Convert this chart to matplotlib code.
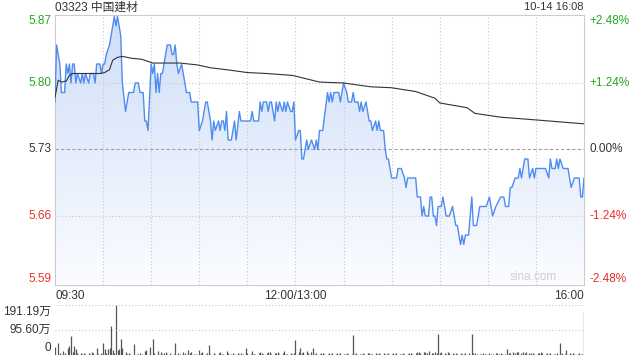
import matplotlib
matplotlib.use('Agg')
import matplotlib.pyplot as plt
import numpy as np
from matplotlib.colors import LinearSegmentedColormap

plt.rcParams['font.family'] = ['Liberation Sans', 'Noto Sans CJK SC', 'DejaVu Sans']

TITLE = '03323 中国建材'
STAMP = '10-14 16:08'
PREV_CLOSE = 5.73
PRICE_TICKS = [5.87, 5.80, 5.73, 5.66, 5.59]
PCT_LABELS = ['+2.48%', '+1.24%', '0.00%', '-1.24%', '-2.48%']
TIME_LABELS = ['09:30', '12:00/13:00', '16:00']
VOL_LABELS = ['191.19万', '95.60万', '0']
VOL_MAX = 191.19

# minutes since 09:30 (trading minutes, lunch removed) and last price
t_min = [0, 1, 3, 4, 6, 7, 8, 9, 10, 11, 12, 13, 14, 16, 17, 18, 19, 21, 22, 24,
         25, 26, 28, 29, 30, 31, 32, 34, 35, 36, 37, 38, 39, 41, 42, 44, 46, 49, 50, 52,
         53, 55, 56, 57, 58, 60, 61, 62, 63, 64, 65, 66, 67, 68, 70, 72, 73, 74, 75, 76,
         77, 79, 80, 82, 84, 85, 89, 90, 92, 94, 95, 97, 98, 99, 100, 102, 103, 104, 105, 106,
         107, 108, 110, 112, 113, 115, 116, 122, 123, 124, 127, 128, 129, 130, 132, 133, 134, 135, 137, 138,
         139, 140, 142, 143, 144, 145, 147, 148, 149, 150, 152, 153, 154, 155, 157, 158, 160, 162, 163, 164,
         165, 167, 170, 171, 172, 173, 174, 177, 178, 180, 182, 183, 185, 186, 187, 189, 190, 191, 192, 194,
         196, 197, 198, 200, 201, 202, 203, 205, 206, 207, 208, 210, 213, 214, 216, 218, 219, 220, 225, 226,
         228, 229, 230, 231, 233, 234, 235, 236, 237, 238, 239, 241, 242, 243, 244, 246, 248, 249, 250, 251,
         253, 254, 255, 256, 258, 260, 261, 263, 265, 269, 271, 272, 273, 275, 278, 280, 281, 283, 284, 285,
         287, 289, 290, 291, 293, 295, 296, 298, 299, 300, 306, 308, 309, 310, 312, 313, 314, 315, 317, 320,
         322, 324, 327, 328, 329, 330]
price = [5.78, 5.84, 5.82, 5.79, 5.79, 5.82, 5.81, 5.82, 5.80, 5.82, 5.82, 5.80, 5.81, 5.80, 5.81, 5.80, 5.81, 5.80, 5.81, 5.81,
         5.80, 5.82, 5.82, 5.81, 5.82, 5.82, 5.83, 5.84, 5.85, 5.86, 5.87, 5.86, 5.87, 5.85, 5.80, 5.77, 5.79, 5.79, 5.80, 5.80,
         5.79, 5.79, 5.76, 5.76, 5.75, 5.82, 5.81, 5.82, 5.79, 5.81, 5.79, 5.81, 5.81, 5.82, 5.84, 5.84, 5.83, 5.83, 5.84, 5.82,
         5.81, 5.82, 5.81, 5.79, 5.79, 5.78, 5.78, 5.75, 5.76, 5.78, 5.78, 5.76, 5.74, 5.76, 5.75, 5.76, 5.75, 5.76, 5.76, 5.75,
         5.77, 5.74, 5.74, 5.76, 5.74, 5.77, 5.76, 5.76, 5.77, 5.76, 5.76, 5.78, 5.77, 5.78, 5.78, 5.77, 5.78, 5.78, 5.76, 5.78,
         5.77, 5.78, 5.77, 5.78, 5.77, 5.78, 5.77, 5.77, 5.78, 5.74, 5.75, 5.75, 5.72, 5.72, 5.74, 5.73, 5.74, 5.73, 5.74, 5.73,
         5.75, 5.75, 5.79, 5.78, 5.79, 5.78, 5.79, 5.79, 5.78, 5.80, 5.79, 5.78, 5.78, 5.79, 5.78, 5.78, 5.77, 5.78, 5.77, 5.78,
         5.76, 5.76, 5.75, 5.76, 5.75, 5.76, 5.75, 5.75, 5.73, 5.72, 5.72, 5.70, 5.70, 5.71, 5.71, 5.70, 5.69, 5.70, 5.70, 5.68,
         5.68, 5.66, 5.67, 5.66, 5.66, 5.68, 5.68, 5.66, 5.66, 5.65, 5.67, 5.67, 5.68, 5.67, 5.66, 5.66, 5.67, 5.66, 5.65, 5.65,
         5.63, 5.64, 5.63, 5.64, 5.64, 5.68, 5.65, 5.65, 5.67, 5.67, 5.68, 5.67, 5.66, 5.67, 5.68, 5.68, 5.67, 5.67, 5.69, 5.69,
         5.70, 5.70, 5.71, 5.70, 5.72, 5.72, 5.70, 5.71, 5.70, 5.71, 5.71, 5.70, 5.72, 5.71, 5.71, 5.72, 5.71, 5.72, 5.71, 5.71,
         5.69, 5.70, 5.70, 5.68, 5.68, 5.70]

# average price line
avg_t = [0, 2, 4, 7, 9, 11, 28, 31, 34, 36, 39, 42, 48, 54, 61, 78, 89, 97, 107, 120,
         132, 148, 153, 165, 180, 197, 210, 225, 237, 240, 257, 262, 278, 301, 330]
avg_p = [5.785, 5.803, 5.801, 5.802, 5.808, 5.810, 5.810, 5.811, 5.814, 5.824, 5.827, 5.828, 5.826, 5.825, 5.821,
         5.821, 5.819, 5.816, 5.814, 5.811, 5.810, 5.808, 5.806, 5.801, 5.800, 5.796, 5.795, 5.791, 5.784, 5.779,
         5.774, 5.768, 5.764, 5.761, 5.757]

# volume, 万 shares
vol_t = [0, 2, 3, 5, 6, 8, 9, 10, 11, 12, 13, 14, 16, 17, 18, 19, 21, 22, 23, 24,
         26, 27, 29, 30, 31, 32, 33, 34, 35, 36, 37, 38, 39, 40, 41, 42, 44, 45, 46, 47,
         49, 51, 52, 53, 54, 56, 57, 59, 61, 62, 64, 66, 67, 68, 69, 70, 72, 74, 75, 77,
         78, 80, 81, 83, 84, 85, 87, 88, 90, 91, 92, 94, 95, 96, 97, 99, 100, 102, 103, 104,
         105, 107, 108, 110, 111, 112, 114, 115, 116, 117, 119, 120, 122, 123, 124, 125, 127, 128, 129, 130,
         132, 133, 134, 135, 137, 138, 139, 140, 142, 143, 144, 145, 147, 148, 149, 150, 152, 153, 154, 155,
         157, 158, 160, 161, 162, 163, 165, 166, 167, 168, 170, 171, 172, 173, 175, 176, 177, 178, 180, 181,
         182, 183, 185, 186, 187, 188, 190, 191, 192, 193, 195, 196, 197, 198, 200, 201, 202, 203, 205, 206,
         207, 208, 210, 211, 212, 213, 215, 216, 217, 218, 220, 221, 222, 223, 225, 226, 227, 228, 230, 231,
         232, 233, 235, 236, 237, 238, 239, 240, 241, 243, 244, 245, 246, 248, 249, 250, 251, 253, 254, 255,
         256, 258, 260, 261, 262, 263, 265, 266, 267, 268, 269, 271, 272, 273, 275, 276, 277, 278, 279, 281,
         282, 283, 284, 286, 287, 288, 289, 291, 292, 293, 294, 296, 297, 298, 299, 301, 302, 303, 304, 306,
         307, 308, 309, 311, 312, 313, 315, 316, 318, 319, 321, 322, 323, 324, 326, 327, 328, 329, 330]
vol = [31, 47, 8, 15, 6, 27, 34, 74, 10, 34, 23, 8, 6, 5, 9, 4, 6, 5, 10, 6,
       27, 5, 6, 47, 23, 8, 23, 27, 112, 19, 8, 191.19, 19, 23, 61, 27, 11, 4, 6, 3,
       42, 5, 4, 6, 4, 15, 19, 30, 61, 8, 15, 10, 5, 7, 10, 4, 6, 5, 46, 8,
       5, 10, 6, 18, 6, 12, 5, 4, 18, 6, 12, 5, 8, 38, 5, 8, 4, 6, 12, 5,
       4, 15, 8, 5, 6, 4, 6, 4, 6, 5, 27, 6, 4, 15, 5, 4, 6, 12, 8, 5,
       6, 10, 12, 5, 6, 8, 12, 5, 6, 15, 5, 4, 6, 4, 8, 57, 12, 27, 8, 12,
       15, 6, 10, 27, 5, 8, 4, 6, 8, 4, 5, 8, 4, 6, 5, 8, 4, 6, 5, 4,
       6, 5, 4, 76, 5, 6, 4, 5, 8, 4, 6, 8, 5, 4, 6, 5, 8, 4, 6, 5,
       4, 6, 5, 8, 4, 6, 5, 4, 6, 5, 4, 6, 8, 5, 6, 10, 12, 8, 12, 10,
       6, 15, 8, 6, 12, 8, 80, 6, 10, 8, 5, 12, 8, 6, 5, 8, 4, 6, 5, 4,
       6, 8, 80, 8, 6, 4, 5, 4, 6, 5, 4, 6, 4, 5, 6, 8, 4, 6, 5, 4,
       23, 6, 8, 10, 8, 12, 10, 8, 12, 6, 10, 8, 6, 8, 5, 6, 8, 12, 6, 5,
       8, 4, 6, 5, 4, 6, 46, 6, 5, 19, 6, 5, 8, 4, 5, 6, 4, 5, 165]

T_END = 330
ylo = PREV_CLOSE * (1 - 0.0248)
yhi = PREV_CLOSE * (1 + 0.0248)
GREEN, RED, DARK = '#22a822', '#e8302a', '#333333'
tick_cols = [GREEN, GREEN, DARK, RED, RED]

fig = plt.figure(figsize=(6.4, 3.6), dpi=100)
ax = fig.add_axes([55 / 640, 1 - 284.5 / 360, 529 / 640, 270 / 360])
axv = fig.add_axes([55 / 640, 1 - 355 / 360, 529 / 640, 50 / 360])

# ---- price panel
ax.set_xlim(0, T_END)
ax.set_ylim(ylo, yhi)

cmap = LinearSegmentedColormap.from_list('fill', ['#fbfcff', '#cfdef9'])
grad = np.linspace(0, 1, 256).reshape(-1, 1)
im = ax.imshow(grad, extent=[0, T_END, ylo, yhi], origin='lower', aspect='auto',
               cmap=cmap, zorder=1)
poly = ax.fill_between(t_min, price, ylo, facecolor='none', edgecolor='none')
im.set_clip_path(poly.get_paths()[0], transform=ax.transData)

for x in range(30, T_END, 30):
    ax.axvline(x, color='#c8c8c8', ls=(0, (1, 2)), lw=0.8, zorder=2)
for y in (PRICE_TICKS[1], PRICE_TICKS[3]):
    ax.axhline(y, color='#c8c8c8', ls=(0, (1, 2)), lw=0.8, zorder=2)
ax.axhline(PREV_CLOSE, color='#a0a0a0', ls=(0, (3, 2)), lw=0.8, zorder=2)

ax.plot(t_min, price, color='#4f8cf0', lw=1.0, zorder=3)
ax.plot(avg_t, avg_p, color='#333333', lw=0.8, zorder=4)

ax.set_xticks([]); ax.set_yticks([])
for s in ax.spines.values():
    s.set_color('#cccccc'); s.set_linewidth(0.8)

for i, (p, c) in enumerate(zip(PRICE_TICKS, tick_cols)):
    va = 'top' if i == 0 else ('bottom' if i == len(PRICE_TICKS) - 1 else 'center')
    ypos = p if 0 < i < 4 else (yhi if i == 0 else ylo)
    ax.text(-0.006, ypos, f'{p:.2f}', transform=ax.get_yaxis_transform(),
            ha='right', va=va, fontsize=8.5, color=c)
    ax.text(1.01, ypos, PCT_LABELS[i], transform=ax.get_yaxis_transform(),
            ha='left', va=va, fontsize=8.5, color=c)

ax.text(0, -0.022, TIME_LABELS[0], transform=ax.transAxes, ha='left', va='top', fontsize=8.5, color=DARK)
ax.text(150 / T_END, -0.022, TIME_LABELS[1], transform=ax.transAxes, ha='center', va='top', fontsize=8.5, color=DARK)
ax.text(1, -0.022, TIME_LABELS[2], transform=ax.transAxes, ha='right', va='top', fontsize=8.5, color=DARK)
ax.text(0.905, 0.005, 'sina.com', transform=ax.transAxes, ha='center', va='bottom', fontsize=8.5, color='#cfcfcf')

fig.text(55 / 640, 1 - 7.5 / 360, TITLE, ha='left', va='center', fontsize=8.5, color=DARK)
fig.text(584 / 640, 1 - 7.5 / 360, STAMP, ha='right', va='center', fontsize=8, color=DARK)

# ---- volume panel
axv.set_xlim(0, T_END)
axv.set_ylim(0, VOL_MAX)
axv.vlines(vol_t, 0, vol, color='#555555', lw=0.9)
axv.axhline(VOL_MAX, color='#c8c8c8', ls=(0, (1, 2)), lw=0.8)
axv.axhline(VOL_MAX / 2, color='#c8c8c8', ls=(0, (1, 2)), lw=0.8)
axv.set_xticks([]); axv.set_yticks([])
for s in axv.spines.values():
    s.set_visible(False)
axv.text(-0.008, 0.86, VOL_LABELS[0], transform=axv.transAxes, ha='right', va='center', fontsize=8.5, color=DARK)
axv.text(-0.008, 0.5, VOL_LABELS[1], transform=axv.transAxes, ha='right', va='center', fontsize=8.5, color=DARK)
axv.text(-0.008, 0.14, VOL_LABELS[2], transform=axv.transAxes, ha='right', va='center', fontsize=8.5, color=DARK)

fig.savefig('out.png', dpi=100)
